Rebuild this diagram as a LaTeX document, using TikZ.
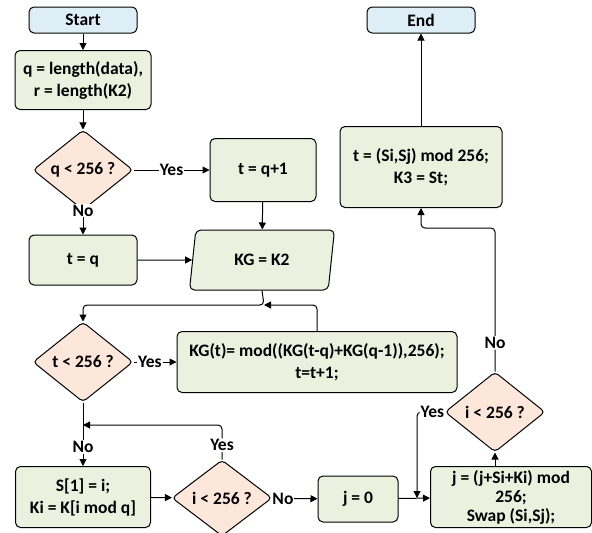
\documentclass[tikz,border=0pt]{standalone}
\usepackage{fontspec}
\setmainfont{Carlito}
\usetikzlibrary{shapes.geometric,arrows.meta}
\definecolor{boxg}{HTML}{EBF1DE}
\definecolor{decp}{HTML}{FCE7DA}
\definecolor{termb}{HTML}{DDEEF6}
\tikzset{
	every node/.style={font=\bfseries\fontsize{17.5}{22}\selectfont, align=center},
	box/.style={draw, fill=boxg, rounded corners=5pt, line width=1pt, inner sep=2pt},
	term/.style={box, fill=termb, minimum width=108, minimum height=26},
	dec/.style={draw, fill=decp, diamond, rounded corners=4pt, line width=1pt, inner sep=0pt, minimum width=100, minimum height=80},
	io/.style={box, trapezium, trapezium left angle=68, trapezium right angle=112, trapezium stretches body, minimum width=145, minimum height=60},
	arr/.style={-{Triangle[length=7pt,width=7pt]}, line width=1pt},
	lbl/.style={fill=white, inner sep=1pt}
}
\begin{document}
\begin{tikzpicture}[x=1pt,y=-1pt]
	\useasboundingbox (0,0) rectangle (592,533);
	\node[term] (st) at (83,20) {Start};
	\node[term] (en) at (421,20) {End};
	\node[box, minimum width=136, minimum height=59] (init) at (83,80) {q = length(data),\\ r = length(K2)};
	\node[dec] (dq) at (83,170) {q < 256 ?};
	\node[box, minimum width=106, minimum height=63] (tq1) at (263,170) {t = q+1};
	\node[box, minimum width=108, minimum height=50] (tq) at (83,260) {t = q};
	\node[io] (kg) at (262,260) {KG = K2};
	\node[dec] (dt) at (83,362) {t < 256 ?};
	\node[box, minimum width=280, minimum height=61] (kgt) at (317,362) {KG(t)= mod((KG(t-q)+KG(q-1)),256);\\ t=t+1;};
	\node[box, minimum width=135, minimum height=61] (s1) at (83,497) {S[1] = i;\\ Ki = K[i mod q]};
	\node[dec, minimum height=76] (di1) at (222,498) {i < 256 ?};
	\node[box, minimum width=80, minimum height=46] (j0) at (358,499) {j = 0};
	\node[box, minimum width=161, minimum height=61, inner sep=1pt, font=\bfseries\fontsize{17.5}{19}\selectfont] (jb) at (511,497) {j = (j+Si+Ki) mod\\ 256;\\ Swap (Si,Sj);};
	\node[dec] (di2) at (495,412) {i < 256 ?};
	\node[box, minimum width=162, minimum height=81] (tb) at (421,167) {t = (Si,Sj) mod 256;\\ K3 = St;};
	\coordinate (j1) at (264,305);
	\coordinate (j2) at (83,425);
	\coordinate (j3) at (417,498);
	\coordinate (j4) at (421,228);
	\draw[arr] (st) -- (init);
	\draw[arr] (init) -- (dq);
	\draw[arr] (dq) -- node[lbl] {Yes} (tq1);
	\draw[arr] (dq.south) -- node[lbl, pos=0] {No} (tq);
	\draw[arr] (tq1) -- (kg);
	\draw[arr] (tq) -- (kg);
	\draw[arr, rounded corners=4pt] (kg.south) -- (j1) -| (dt.north);
	\draw[arr, rounded corners=4pt] (kgt.north) |- (j1);
	\draw[arr] (dt) -- node[lbl, pos=.38] {Yes} (kgt);
	\draw[arr] (dt.south) -- node[lbl, pos=.7] {No} (s1);
	\draw[arr, rounded corners=4pt] (di1.north) |- node[lbl, pos=.21] {Yes} (j2);
	\draw[arr] (s1) -- (di1);
	\draw[arr] (di1) -- node[lbl, pos=.24] {No} (j0);
	\draw[arr] (j0) -- (jb);
	\draw[arr, rounded corners=4pt] (di2.west) -| node[lbl, pos=.22] {Yes} (j3);
	\draw[arr] (di2 |- jb.north) -- (di2.south);
	\draw[arr, rounded corners=4pt] (di2.north) |- node[lbl, pos=.1] {No} (j4) -- (tb.south);
	\draw[arr] (tb) -- (en);
\end{tikzpicture}
\end{document}
